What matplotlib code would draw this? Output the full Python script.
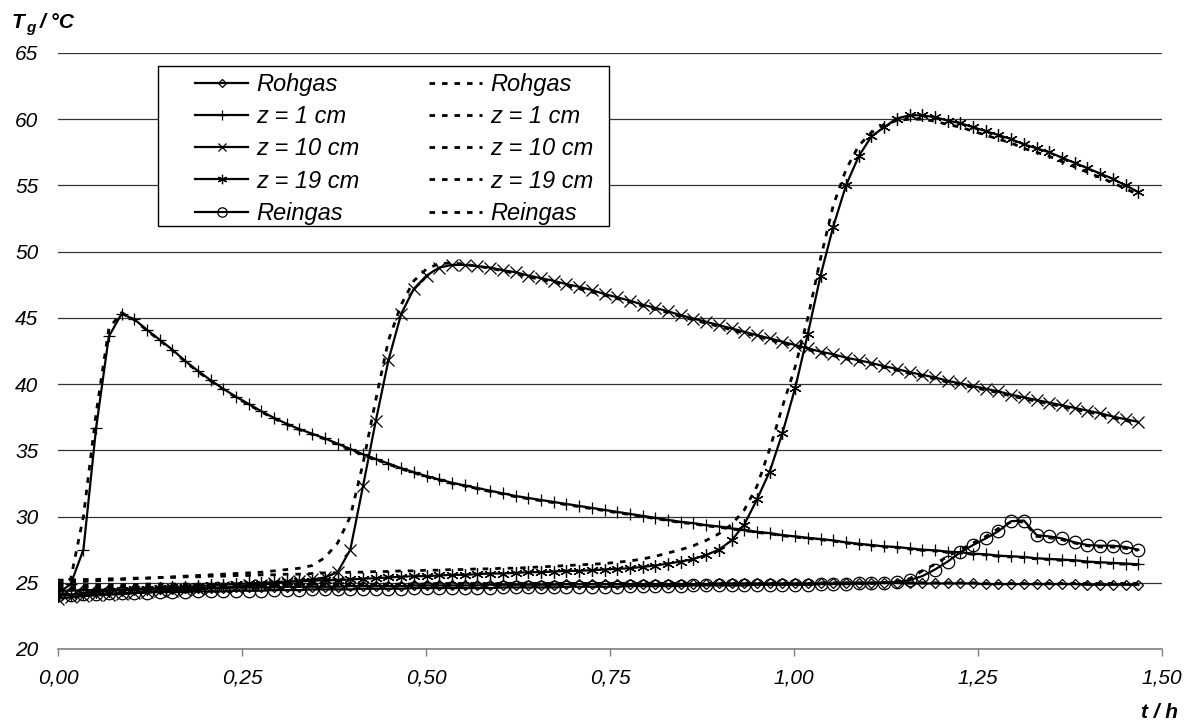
import numpy as np
import matplotlib
matplotlib.use("Agg")
import matplotlib.pyplot as plt
from matplotlib.lines import Line2D
from matplotlib.patches import Rectangle

plt.rcParams["font.family"] = ["Liberation Sans", "DejaVu Sans"]
plt.rcParams["font.style"] = "italic"

# sampling grid (h): 86 measurements from 0 to ~1.47 h
T_END = 1.4678
N_POINTS = 86

# measured temperatures (solid lines with markers)
rohgas_mess = [
    24.4, 24.4, 24.45, 24.45, 24.5, 24.5, 24.5, 24.55, 24.55, 24.55,
    24.6, 24.6, 24.6, 24.6, 24.65, 24.65, 24.65, 24.65, 24.7, 24.7,
    24.7, 24.7, 24.7, 24.75, 24.75, 24.75, 24.75, 24.75, 24.8, 24.8,
    24.8, 24.8, 24.8, 24.8, 24.85, 24.85, 24.85, 24.85, 24.85, 24.85,
    24.9, 24.9, 24.9, 24.9, 24.9, 24.9, 24.9, 24.9, 24.9, 24.9,
    24.9, 24.9, 24.95, 24.95, 24.95, 24.95, 24.95, 24.95, 24.95, 24.95,
    24.95, 24.95, 25.0, 25.0, 25.0, 25.0, 25.0, 24.95, 24.95, 24.95,
    24.95, 24.95, 24.95, 24.9, 24.9, 24.9, 24.9, 24.9, 24.9, 24.9,
    24.9, 24.85, 24.85, 24.85, 24.85, 24.85,
]
z1_mess = [
    24.2, 24.9, 27.5, 36.7, 43.6, 45.3, 44.9, 44.1, 43.35, 42.6,
    41.75, 41.0, 40.3, 39.65, 39.05, 38.5, 37.95, 37.45, 37.0, 36.6,
    36.25, 35.9, 35.5, 35.1, 34.7, 34.35, 34.0, 33.65, 33.35, 33.05,
    32.8, 32.55, 32.35, 32.15, 31.95, 31.75, 31.55, 31.4, 31.25, 31.1,
    30.95, 30.8, 30.65, 30.5, 30.35, 30.2, 30.05, 29.9, 29.75, 29.6,
    29.5, 29.35, 29.25, 29.1, 29.0, 28.85, 28.75, 28.6, 28.5, 28.4,
    28.3, 28.2, 28.05, 27.95, 27.85, 27.75, 27.7, 27.6, 27.5, 27.45,
    27.35, 27.3, 27.2, 27.15, 27.05, 27.0, 26.95, 26.85, 26.8, 26.75,
    26.7, 26.6, 26.55, 26.5, 26.45, 26.4,
]
z10_mess = [
    23.8, 23.9, 24.0, 24.05, 24.1, 24.15, 24.2, 24.3, 24.35, 24.4,
    24.45, 24.5, 24.6, 24.65, 24.7, 24.8, 24.85, 24.95, 25.05, 25.15,
    25.25, 25.4, 25.8, 27.5, 32.3, 37.2, 41.8, 45.3, 47.2, 48.2,
    48.8, 49.0, 49.0, 48.9, 48.8, 48.6, 48.45, 48.2, 48.0, 47.8,
    47.55, 47.35, 47.1, 46.8, 46.55, 46.3, 46.0, 45.75, 45.5, 45.2,
    44.95, 44.7, 44.45, 44.2, 43.95, 43.7, 43.45, 43.2, 42.95, 42.7,
    42.45, 42.25, 42.0, 41.8, 41.6, 41.35, 41.15, 40.9, 40.7, 40.5,
    40.25, 40.05, 39.85, 39.65, 39.45, 39.2, 39.0, 38.8, 38.6, 38.4,
    38.2, 38.0, 37.8, 37.55, 37.35, 37.15,
]
z19_mess = [
    24.0, 24.1, 24.2, 24.3, 24.4, 24.45, 24.5, 24.55, 24.6, 24.65,
    24.7, 24.75, 24.8, 24.85, 24.9, 24.95, 25.0, 25.05, 25.1, 25.1,
    25.15, 25.2, 25.2, 25.25, 25.3, 25.35, 25.4, 25.45, 25.5, 25.5,
    25.55, 25.6, 25.6, 25.65, 25.7, 25.7, 25.75, 25.8, 25.8, 25.85,
    25.9, 25.9, 25.95, 26.0, 26.05, 26.1, 26.2, 26.3, 26.45, 26.6,
    26.8, 27.1, 27.5, 28.2, 29.4, 31.3, 33.4, 36.3, 39.7, 43.8,
    48.2, 51.9, 55.0, 57.2, 58.7, 59.4, 60.05, 60.3, 60.3, 60.15,
    59.9, 59.7, 59.4, 59.1, 58.8, 58.5, 58.1, 57.8, 57.5, 57.1,
    56.7, 56.3, 55.9, 55.5, 55.0, 54.5,
]
reingas_mess = [
    24.1, 24.1, 24.15, 24.15, 24.2, 24.2, 24.25, 24.25, 24.3, 24.3,
    24.3, 24.35, 24.35, 24.35, 24.4, 24.4, 24.4, 24.45, 24.45, 24.45,
    24.5, 24.5, 24.5, 24.5, 24.55, 24.55, 24.55, 24.55, 24.6, 24.6,
    24.6, 24.6, 24.6, 24.6, 24.6, 24.65, 24.65, 24.65, 24.65, 24.65,
    24.7, 24.7, 24.7, 24.7, 24.7, 24.75, 24.75, 24.75, 24.75, 24.75,
    24.8, 24.8, 24.8, 24.8, 24.8, 24.85, 24.85, 24.85, 24.85, 24.85,
    24.9, 24.9, 24.9, 24.95, 24.95, 25.0, 25.05, 25.2, 25.5, 26.0,
    26.6, 27.3, 27.85, 28.35, 28.9, 29.65, 29.7, 28.6, 28.5, 28.35,
    28.05, 27.85, 27.8, 27.8, 27.7, 27.5,
]

# simulated temperatures (dashed lines)
rohgas_sim = [
    24.8, 24.8, 24.8, 24.85, 24.85, 24.85, 24.85, 24.9, 24.9, 24.9,
    24.9, 24.9, 24.9, 24.9, 24.9, 24.9, 24.9, 24.9, 24.9, 24.9,
    24.9, 24.9, 24.9, 24.9, 24.9, 24.9, 24.9, 24.9, 24.9, 24.9,
    24.95, 24.95, 24.95, 24.95, 24.95, 24.95, 24.95, 24.95, 24.95, 24.95,
    24.95, 24.95, 24.95, 24.95, 24.95, 24.95, 24.95, 24.95, 24.95, 24.95,
    24.95, 24.95, 24.95, 24.95, 24.95, 24.95, 24.95, 24.95, 24.95, 24.95,
    25.0, 25.0, 25.0, 25.0, 25.0, 25.0, 25.0, 25.0, 25.0, 25.0,
    25.0, 25.0, 25.0, 24.95, 24.95, 24.95, 24.95, 24.95, 24.95, 24.95,
    24.95, 24.95, 24.95, 24.95, 24.95, 24.95,
]
z1_sim = [
    24.7, 25.3, 30.0, 37.8, 44.2, 45.4, 44.85, 44.05, 43.3, 42.55,
    41.7, 40.95, 40.25, 39.6, 39.0, 38.45, 37.9, 37.4, 36.95, 36.55,
    36.2, 35.85, 35.45, 35.05, 34.65, 34.3, 33.95, 33.6, 33.3, 33.0,
    32.75, 32.5, 32.3, 32.1, 31.9, 31.7, 31.5, 31.35, 31.2, 31.05,
    30.9, 30.75, 30.6, 30.45, 30.3, 30.15, 30.0, 29.85, 29.7, 29.55,
    29.45, 29.3, 29.2, 29.05, 28.95, 28.8, 28.7, 28.55, 28.45, 28.35,
    28.25, 28.15, 28.0, 27.9, 27.8, 27.7, 27.65, 27.55, 27.45, 27.4,
    27.3, 27.25, 27.15, 27.1, 27.0, 26.95, 26.9, 26.8, 26.75, 26.7,
    26.65, 26.55, 26.5, 26.45, 26.4, 26.35,
]
z10_sim = [
    25.0, 25.05, 25.1, 25.15, 25.2, 25.25, 25.3, 25.35, 25.4, 25.45,
    25.5, 25.55, 25.6, 25.65, 25.7, 25.75, 25.8, 25.9, 26.0, 26.1,
    26.3, 26.9, 28.0, 30.0, 34.0, 38.8, 43.3, 46.0, 47.8, 48.7,
    49.1, 49.15, 49.05, 48.9, 48.75, 48.55, 48.35, 48.1, 47.9, 47.7,
    47.45, 47.2, 46.95, 46.7, 46.45, 46.2, 45.9, 45.65, 45.4, 45.1,
    44.85, 44.6, 44.35, 44.1, 43.85, 43.6, 43.35, 43.1, 42.85, 42.6,
    42.35, 42.15, 41.9, 41.7, 41.5, 41.25, 41.05, 40.8, 40.6, 40.4,
    40.15, 39.95, 39.75, 39.55, 39.35, 39.1, 38.9, 38.7, 38.5, 38.3,
    38.1, 37.9, 37.7, 37.45, 37.25, 37.05,
]
z19_sim = [
    25.2, 25.2, 25.25, 25.25, 25.3, 25.3, 25.35, 25.35, 25.4, 25.4,
    25.45, 25.45, 25.5, 25.5, 25.55, 25.55, 25.6, 25.6, 25.65, 25.65,
    25.7, 25.75, 25.75, 25.8, 25.8, 25.85, 25.85, 25.9, 25.9, 25.95,
    25.95, 26.0, 26.0, 26.05, 26.05, 26.1, 26.1, 26.15, 26.2, 26.25,
    26.3, 26.35, 26.4, 26.45, 26.55, 26.65, 26.8, 27.0, 27.25, 27.5,
    27.8, 28.2, 28.7, 29.4, 30.5, 32.3, 35.1, 38.3, 41.3, 45.0,
    49.5, 53.5, 56.2, 58.0, 59.0, 59.6, 59.9, 60.0, 60.0, 59.85,
    59.6, 59.4, 59.1, 58.8, 58.5, 58.2, 57.8, 57.5, 57.2, 56.8,
    56.4, 56.0, 55.6, 55.2, 54.75, 54.3,
]
reingas_sim = [
    24.6, 24.6, 24.65, 24.65, 24.65, 24.7, 24.7, 24.7, 24.7, 24.75,
    24.75, 24.75, 24.75, 24.75, 24.75, 24.75, 24.75, 24.75, 24.75, 24.75,
    24.8, 24.8, 24.8, 24.8, 24.8, 24.8, 24.8, 24.8, 24.8, 24.8,
    24.8, 24.8, 24.8, 24.8, 24.8, 24.8, 24.8, 24.8, 24.8, 24.8,
    24.85, 24.85, 24.85, 24.85, 24.85, 24.85, 24.85, 24.85, 24.85, 24.85,
    24.9, 24.9, 24.9, 24.9, 24.9, 24.9, 24.9, 24.9, 24.9, 24.9,
    24.95, 24.95, 24.95, 24.95, 24.95, 25.0, 25.1, 25.3, 25.9, 26.4,
    27.0, 27.5, 28.0, 28.5, 29.1, 29.6, 29.6, 28.5, 28.4, 28.25,
    28.0, 27.8, 27.7, 27.7, 27.6, 27.45,
]

labels = ["Rohgas", "z = 1 cm", "z = 10 cm", "z = 19 cm", "Reingas"]
x_ticks = [0.0, 0.25, 0.5, 0.75, 1.0, 1.25, 1.5]
y_ticks = [20, 25, 30, 35, 40, 45, 50, 55, 60, 65]

t = np.linspace(0, T_END, N_POINTS)

mess = [rohgas_mess, z1_mess, z10_mess, z19_mess, reingas_mess]
sim = [rohgas_sim, z1_sim, z10_sim, z19_sim, reingas_sim]
markers = ["D", "+", "x", (6, 2, 0), "o"]
msizes = [5, 9, 8, 9, 9]
DASH = (0, (2.0, 2.5))

W, H = 1188, 722
fig = plt.figure(figsize=(W / 100, H / 100), dpi=100)
ax = fig.add_axes([58 / W, 1 - 649 / H, 1104 / W, 596 / H])

for y, m, ms in zip(mess, markers, msizes):
    ax.plot(t, y, color="black", lw=1.6, marker=m, ms=ms,
            mfc="none", mec="black", mew=0.9, zorder=3)
for y in sim:
    ax.plot(t, y, color="black", lw=2.0, linestyle=DASH, zorder=4)

ax.set_xlim(0, 1.5)
ax.set_ylim(20, 65)
ax.set_xticks(x_ticks)
ax.set_xticklabels([f"{v:.2f}".replace(".", ",") for v in x_ticks])
ax.set_yticks(y_ticks)
ax.set_yticklabels([str(v) for v in y_ticks])
ax.tick_params(axis="x", direction="out", length=5, width=1, color="#808080",
               labelsize=15, pad=9)
ax.tick_params(axis="y", length=0, labelsize=15, pad=14)
ax.yaxis.grid(True, color="#333333", lw=0.9)
ax.set_axisbelow(True)
for side in ["left", "right", "top"]:
    ax.spines[side].set_visible(False)
ax.spines["bottom"].set_color("#808080")
ax.spines["bottom"].set_linewidth(1.2)

# legend box drawn separately (Excel-like wide margins)
box = Rectangle((158 / W, 1 - 226 / H), 451 / W, 160 / H,
                transform=fig.transFigure, facecolor="white",
                edgecolor="black", lw=1.0, zorder=5, clip_on=False)
ax.add_patch(box)

leg_solid = [Line2D([], [], color="black", lw=1.6, marker=m, ms=ms * 0.75,
                    mfc="none", mec="black", mew=0.9) for m, ms in zip(markers, msizes)]
leg_dash = [Line2D([], [], color="black", lw=2.0, linestyle=DASH) for _ in labels]
leg = ax.legend(leg_solid + leg_dash, labels + labels, ncol=2,
                loc="upper left", bbox_to_anchor=(195 / W, 1 - 73 / H),
                bbox_transform=fig.transFigure, borderaxespad=0, borderpad=0,
                fontsize=17, frameon=False, handlelength=2.25,
                handletextpad=0.34, columnspacing=2.95, labelspacing=0.39)
leg.set_zorder(6)

# axis titles
fig.text(12 / W, 1 - 23 / H, "T", fontsize=15, fontweight="bold",
         va="center", ha="left")
fig.text(26 / W, 1 - 28 / H, "g", fontsize=11, fontweight="bold",
         va="center", ha="left")
fig.text(40 / W, 1 - 23 / H, "/ °C", fontsize=15, fontweight="bold",
         va="center", ha="left")
fig.text(1178 / W, 1 - 712 / H, "t / h", fontsize=15, fontweight="bold",
         va="center", ha="right")

fig.savefig("out.png", dpi=100)
